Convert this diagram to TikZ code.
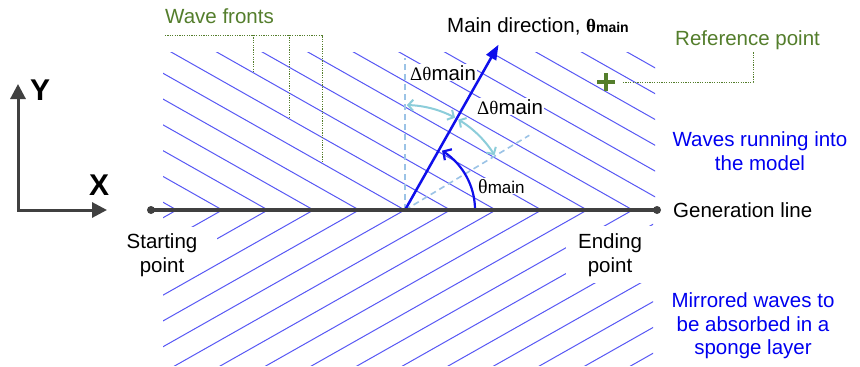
\documentclass[tikz,border=0pt]{standalone}
\usepackage{fontspec}
\setmainfont{Liberation Sans}
\newfontfamily\grk{Liberation Serif}
\usetikzlibrary{arrows.meta}
\definecolor{wavec}{RGB}{88,88,245}
\definecolor{darkg}{RGB}{64,64,64}
\definecolor{calg}{RGB}{84,126,44}
\definecolor{lblue}{RGB}{155,195,230}
\definecolor{lteal}{RGB}{140,205,218}
\definecolor{mainb}{RGB}{15,15,235}
\definecolor{txtb}{RGB}{0,0,240}
\begin{document}
\begin{tikzpicture}[x=1pt,y=-1pt,
  wave/.style={draw=wavec, line width=1pt},
  callout/.style={draw=calg, line width=1pt, dash pattern=on 1.2pt off 1.2pt},
  lbl/.style={font=\fontsize{20.5}{23.5}\selectfont, inner sep=0pt},
  mlbl/.style={lbl, align=center},
  glbl/.style={lbl, text=calg},
  blbl/.style={mlbl, text=txtb},
  axlbl/.style={font=\fontsize{30}{30}\selectfont\bfseries, inner sep=0pt},
  axisline/.style={draw=darkg, line width=3pt, {Triangle[length=15pt,width=15pt]}-{Triangle[length=15pt,width=15pt]}},
  genline/.style={draw=darkg, line width=3.5pt},
  guide/.style={draw=lblue, line width=1.6pt, dash pattern=on 6pt off 4pt},
  spread/.style={draw=lteal, line width=2pt, {Straight Barb[length=5pt,width=11pt]}-{Straight Barb[length=5pt,width=11pt]}},
  thetaarc/.style={draw=mainb, line width=2.2pt, -{Straight Barb[length=6pt,width=13pt]}},
  mainarrow/.style={draw=mainb, line width=2.5pt, -{Triangle[length=15pt,width=11pt]}},
  maskbox/.style={fill=white, inner sep=1pt}
]
\useasboundingbox (0,0) rectangle (860,367);
\fill[white] (0,0) rectangle (860,367);

% incoming wave fronts
\begin{scope}
\clip (163,52) rectangle (655,210);
\foreach \n in {0,...,16}
  \draw[wave] ({176.7+45.6*\n},210) -- ++({-640*cos(29.5)},{-640*sin(29.5)});
\end{scope}
% mirrored wave fronts
\begin{scope}
\clip (163,210) rectangle (653,365);
\foreach \n in {0,...,16}
  \draw[wave] ({176.7+45.6*\n},210) -- ++({-640*cos(29.5)},{640*sin(29.5)});
\end{scope}

% white areas behind the point labels
\fill[white] (112,227) rectangle (217,260);
\fill[white] (112,258) rectangle (189,279);
\fill[white] (566,226) rectangle (656,283);

% wave fronts callout
\coordinate (wfL) at (165,35);
\coordinate (wfR) at (322,35);
\coordinate (wf1t) at (253,35);
\coordinate (wf1) at (253,72.6);
\coordinate (wf2t) at (289,35);
\coordinate (wf2) at (289,118.7);
\coordinate (wf3) at (322,163.2);
\draw[callout] (wfL) -- (wfR) -- (wf3);
\draw[callout] (wf1t) -- (wf1);
\draw[callout] (wf2t) -- (wf2);

% reference point
\coordinate (rp) at (606,82);
\draw[calg, line width=3.5pt] ([xshift=-9pt]rp) -- ([xshift=9pt]rp) ([yshift=-9pt]rp) -- ([yshift=9pt]rp);
\coordinate (rpA) at (623,82);
\coordinate (rpB) at (753,82);
\coordinate (rpC) at (753,52);
\draw[callout] (rpA) -- (rpB) -- (rpC);

% angle labels (white background)
\node[lbl, maskbox, anchor=base west] (dt1) at (409,80) {{\grk\fontsize{19}{19}\selectfont Δθ}main};
\node[lbl, maskbox, anchor=base west] (dt2) at (476,114) {{\grk\fontsize{19}{19}\selectfont Δθ}main};
\node[lbl, maskbox, anchor=base west] (th) at (477,193) {{\grk\fontsize{20}{20}\selectfont θ}{\fontsize{17}{17}\selectfont main}};

% guides
\coordinate (O) at (405,210);
\coordinate (gV) at (405,58);
\coordinate (gR) at ({405+145*cos(31)},{210-145*sin(31)});
\draw[guide] (O) -- (gV);
\draw[guide] (O) -- (gR);

% spread arcs
\draw[spread] plot[domain=89:61.5, samples=25] ({405+105*cos(\x)},{210-105*sin(\x)});
\draw[spread] plot[domain=59.5:31.5, samples=25] ({405+105*cos(\x)},{210-105*sin(\x)});

% theta arc
\draw[thetaarc] plot[domain=0:58, samples=30] ({405+70*cos(\x)},{210-70*sin(\x)});

% main direction
\coordinate (tip) at ({405+190*cos(60.5)},{210-190*sin(60.5)});
\draw[mainarrow] (O) -- (tip);

% generation line
\coordinate (gs) at (151,210);
\coordinate (ge) at (657,210);
\draw[genline] (gs) -- (ge);
\fill[darkg] (gs) circle[radius=4];
\fill[darkg] (ge) circle[radius=4];

% axes
\coordinate (ax0) at (18,210);
\coordinate (axX) at (107,210);
\coordinate (axY) at (18,84);
\draw[axisline] (axY) -- (ax0) -- (axX);
\node[axlbl, anchor=base west] (xl) at (89,195) {X};
\node[axlbl, anchor=base west] (yl) at (30,100) {Y};

% texts
\node[glbl, anchor=base west] (wft) at (165,23) {Wave fronts};
\node[glbl, anchor=base west] (rpt) at (675,45) {Reference point};
\node[lbl, anchor=base west] (mdl) at (447,32) {Main direction, {\grk\bfseries\fontsize{19}{19}\selectfont θ}{\bfseries\fontsize{14}{14}\selectfont main}};
\node[lbl, anchor=base west] (gl) at (673,217) {Generation line};
\node[mlbl] (sp) at (162,255) {Starting\\point};
\node[mlbl] (ep) at (610,255) {Ending\\point};
\node[blbl] (wr) at (760,151) {Waves running into\\the model};
\node[blbl] (mw) at (753,326) {Mirrored waves to\\be absorbed in a\\sponge layer};
\end{tikzpicture}
\end{document}
